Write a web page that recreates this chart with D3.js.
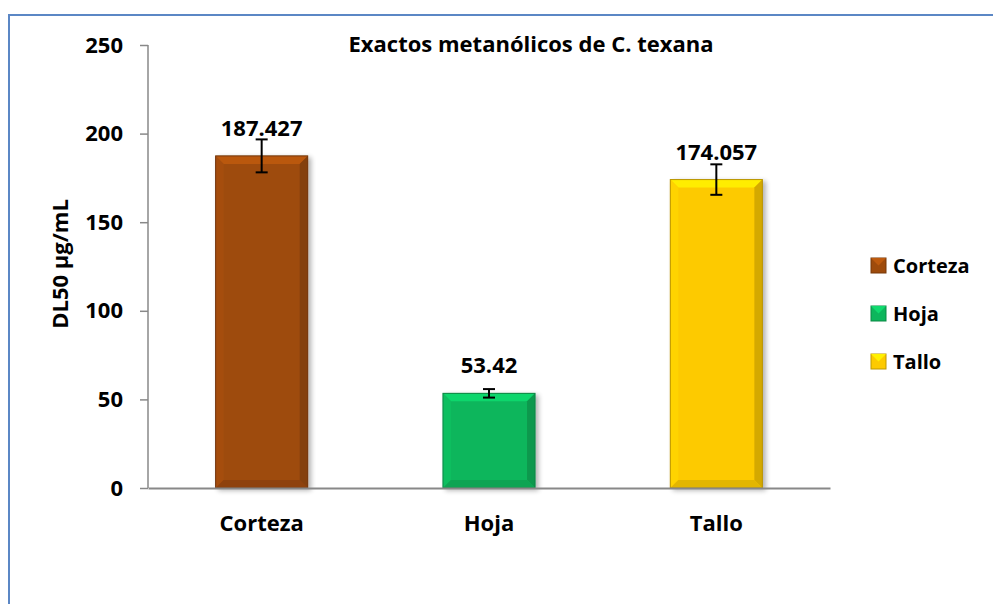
<!DOCTYPE html>
<html>
<head>
<meta charset="utf-8">
<script src="https://cdn.jsdelivr.net/npm/d3@7"></script>
<style>
  body { margin: 0; background: #fff; }
  svg text { font-family: "Open Sans", Lato, sans-serif; font-weight: bold; fill: #000; }
</style>
</head>
<body>
<div id="chart"></div>
<script>
// data
var categories = ["Corteza", "Hoja", "Tallo"];
var values = [187.427, 53.42, 174.057];
var errors = [9.3, 2.4, 8.6];
var labels = ["187.427", "53.42", "174.057"];
var colors = ["#9e4b0c", "#0db65c", "#fdca00"];
var yTicks = [0, 50, 100, 150, 200, 250];

var width = 993, height = 604;
var padding = { top: 45, left: 148, right: 830, bottom: 488 };

var svg = d3.select("#chart").append("svg")
    .attr("width", width)
    .attr("height", height);

var defs = svg.append("defs");
var shadow = defs.append("filter").attr("id", "shadow")
    .attr("x", "-10%").attr("y", "-10%").attr("width", "130%").attr("height", "130%");
shadow.append("feGaussianBlur").attr("in", "SourceAlpha").attr("stdDeviation", 2.5);
shadow.append("feOffset").attr("dx", 3).attr("dy", 2).attr("result", "b");
shadow.append("feComponentTransfer").append("feFuncA").attr("type", "linear").attr("slope", 0.3);
var merge = shadow.append("feMerge");
merge.append("feMergeNode");
merge.append("feMergeNode").attr("in", "SourceGraphic");

// outer frame (only top and left are visible)
svg.append("rect")
    .attr("x", 9).attr("y", 15)
    .attr("width", 1100).attr("height", 700)
    .attr("fill", "none")
    .attr("stroke", "#5b87c5")
    .attr("stroke-width", 2);

var xScale = d3.scaleBand()
    .domain(categories)
    .range([padding.left, padding.right])
    .paddingInner(0.595)
    .paddingOuter(0.2975);

var yScale = d3.scaleLinear()
    .domain([0, 250])
    .range([padding.bottom, padding.top]);

var yAxis = d3.axisLeft(yScale).tickValues(yTicks).tickSize(8).tickPadding(17);
var gy = svg.append("g")
    .attr("transform", "translate(" + padding.left + ",0)")
    .call(yAxis);
gy.selectAll("text").style("font-size", "22px");
gy.selectAll("line, path").attr("stroke", "#888").attr("stroke-width", 1.5);
gy.select(".domain").attr("d", "M0," + yScale(250) + "V" + yScale(0));

// bars with bevel
var bars = svg.append("g").selectAll("g")
    .data(categories)
    .enter()
    .append("g")
    .attr("filter", "url(#shadow)");

bars.each(function(c, i) {
    var g = d3.select(this);
    var x0 = xScale(c), w = xScale.bandwidth();
    var y0 = yScale(values[i]), y1 = yScale(0);
    var base = d3.color(colors[i]);
    var b = 8;
    g.append("rect").attr("x", x0).attr("y", y0).attr("width", w).attr("height", y1 - y0)
        .attr("fill", base);
    // top bevel
    g.append("path")
        .attr("d", "M" + x0 + "," + y0 + "H" + (x0 + w) + "L" + (x0 + w - b) + "," + (y0 + b) + "H" + (x0 + b) + "Z")
        .attr("fill", base.brighter(0.45));
    // left bevel
    g.append("path")
        .attr("d", "M" + x0 + "," + y0 + "L" + (x0 + b) + "," + (y0 + b) + "V" + (y1 - b) + "L" + x0 + "," + y1 + "Z")
        .attr("fill", base.brighter(0.12));
    // right bevel
    g.append("path")
        .attr("d", "M" + (x0 + w) + "," + y0 + "L" + (x0 + w - b) + "," + (y0 + b) + "V" + (y1 - b) + "L" + (x0 + w) + "," + y1 + "Z")
        .attr("fill", base.darker(0.5));
    // bottom bevel
    g.append("path")
        .attr("d", "M" + x0 + "," + y1 + "L" + (x0 + b) + "," + (y1 - b) + "H" + (x0 + w - b) + "L" + (x0 + w) + "," + y1 + "Z")
        .attr("fill", base.darker(0.3));
    g.append("rect").attr("x", x0).attr("y", y0).attr("width", w).attr("height", y1 - y0)
        .attr("fill", "none").attr("stroke", base.darker(0.9)).attr("stroke-width", 1);
});

// x axis
var xAxis = d3.axisBottom(xScale).tickSize(0).tickPadding(27);
var gx = svg.append("g")
    .attr("transform", "translate(0," + padding.bottom + ")")
    .call(xAxis);
gx.selectAll("text").style("font-size", "22px");
gx.select(".domain").attr("stroke", "#888").attr("stroke-width", 2);

// error bars
var err = svg.append("g").selectAll("g")
    .data(categories)
    .enter()
    .append("g")
    .attr("stroke", "#000")
    .attr("stroke-width", 2);
err.append("line")
    .attr("x1", function(d) { return xScale(d) + xScale.bandwidth() / 2; })
    .attr("x2", function(d) { return xScale(d) + xScale.bandwidth() / 2; })
    .attr("y1", function(d, i) { return yScale(values[i] + errors[i]); })
    .attr("y2", function(d, i) { return yScale(values[i] - errors[i]); });
err.append("line")
    .attr("x1", function(d) { return xScale(d) + xScale.bandwidth() / 2 - 6; })
    .attr("x2", function(d) { return xScale(d) + xScale.bandwidth() / 2 + 6; })
    .attr("y1", function(d, i) { return yScale(values[i] + errors[i]); })
    .attr("y2", function(d, i) { return yScale(values[i] + errors[i]); });
err.append("line")
    .attr("x1", function(d) { return xScale(d) + xScale.bandwidth() / 2 - 6; })
    .attr("x2", function(d) { return xScale(d) + xScale.bandwidth() / 2 + 6; })
    .attr("y1", function(d, i) { return yScale(values[i] - errors[i]); })
    .attr("y2", function(d, i) { return yScale(values[i] - errors[i]); });

// value labels
svg.append("g").selectAll("text")
    .data(categories)
    .enter()
    .append("text")
    .attr("x", function(d) { return xScale(d) + xScale.bandwidth() / 2; })
    .attr("y", function(d, i) { return yScale(values[i]) - 20; })
    .attr("text-anchor", "middle")
    .style("font-size", "22px")
    .text(function(d, i) { return labels[i]; });

// title
svg.append("text")
    .attr("x", 531).attr("y", 52)
    .attr("text-anchor", "middle")
    .style("font-size", "22px")
    .text("Exactos metanólicos de C. texana");

// y label
svg.append("text")
    .attr("transform", "translate(68,264) rotate(-90)")
    .attr("text-anchor", "middle")
    .style("font-size", "22px")
    .text("DL50 µg/mL");

// legend
var legend = svg.append("g").selectAll("g")
    .data(categories)
    .enter()
    .append("g")
    .attr("transform", function(d, i) { return "translate(871," + (258 + i * 48) + ")"; });
legend.append("rect")
    .attr("width", 15).attr("height", 15)
    .attr("fill", function(d, i) { return colors[i]; })
    .attr("stroke", function(d, i) { return d3.color(colors[i]).darker(0.8); });
legend.append("path")
    .attr("d", "M0,0H15L7.5,7.5Z")
    .attr("fill", function(d, i) { return d3.color(colors[i]).brighter(0.5); });
legend.append("text")
    .attr("x", 22).attr("y", 15)
    .style("font-size", "20px")
    .text(function(d) { return d; });
</script>
</body>
</html>
